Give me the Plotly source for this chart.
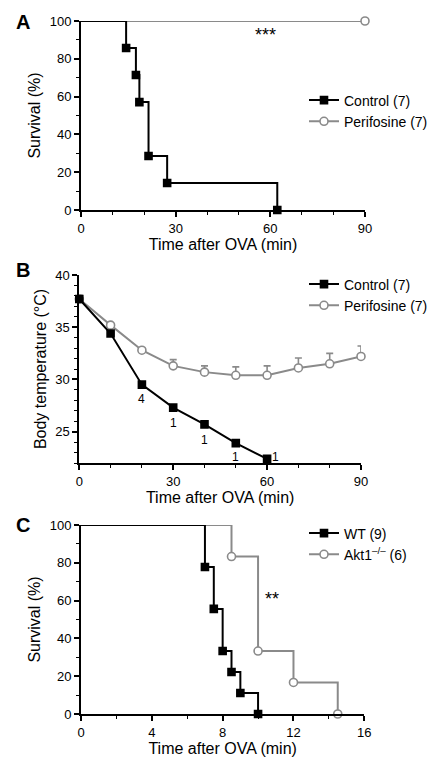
import plotly.graph_objects as go

# ---------------- data ----------------
# Panel A: survival (Kaplan-Meier steps)
a_ctrl_t = [0, 14.3, 17.4, 18.5, 21.4, 27.3, 62.2]
a_ctrl_s = [100, 85.7, 71.4, 57.1, 28.6, 14.3, 0]
a_peri_t = [0, 90]
a_peri_s = [100, 100]

# Panel B: body temperature
b_ctrl_t = [0, 10, 20, 30, 40, 50, 60]
b_ctrl_v = [37.7, 34.4, 29.5, 27.3, 25.7, 23.9, 22.4]
b_peri_t = [0, 10, 20, 30, 40, 50, 60, 70, 80, 90]
b_peri_v = [37.7, 35.2, 32.8, 31.3, 30.7, 30.4, 30.4, 31.1, 31.5, 32.2]
b_peri_err = [0.35, 0.2, 0.2, 0.6, 0.6, 0.8, 0.9, 0.95, 1.0, 1.0]
b_n_labels = ["4", "1", "1", "1", "1"]
b_n_x = [20, 30, 40, 50, 62.6]
b_n_y = [28.1, 25.8, 24.2, 22.6, 22.6]

# Panel C: survival
c_wt_t = [0, 7, 7.5, 8, 8.5, 9, 10]
c_wt_s = [100, 77.8, 55.6, 33.3, 22.2, 11.1, 0]
c_akt_t = [0, 8.5, 10, 12, 14.5]
c_akt_s = [100, 83.3, 33.3, 16.7, 0]

FONT = "Liberation Sans, Arial, sans-serif"
BLACK = "#000000"
GRAY = "#8a8a8a"

W, H = 445, 768
OFFX, OFFY = 8, 8   # page body margin

fig = go.Figure()


def add_series(xs, ys, xa, ya, color, symbol, name, legend, step, skip_first=True, err=None):
    fig.add_trace(go.Scatter(
        x=xs, y=ys, mode="lines", xaxis=xa, yaxis=ya,
        line=dict(color=color, width=2, shape="hv" if step else "linear"),
        showlegend=False, hoverinfo="skip", cliponaxis=False))
    mx = xs[1:] if skip_first else xs
    my = ys[1:] if skip_first else ys
    mk = dict(symbol=symbol, size=8 if symbol == "circle" else 7,
              color=color if symbol == "square" else "white",
              line=dict(color=color, width=1.6))
    tr = dict(x=mx, y=my, mode="markers", xaxis=xa, yaxis=ya, marker=mk,
              showlegend=False, cliponaxis=False)
    if err is not None:
        tr["error_y"] = dict(type="data", symmetric=False, array=err,
                             arrayminus=[0] * len(err), color=color,
                             thickness=1.6, width=3.5)
    fig.add_trace(go.Scatter(**tr))
    fig.add_trace(go.Scatter(
        x=[None], y=[None], mode="lines+markers", xaxis=xa, yaxis=ya,
        name=name, legend=legend, line=dict(color=color, width=2), marker=mk))


add_series(a_peri_t, a_peri_s, "x", "y", GRAY, "circle", "Perifosine (7)", "legend", True)
add_series(a_ctrl_t, a_ctrl_s, "x", "y", BLACK, "square", "Control (7)", "legend", True)
add_series(b_peri_t, b_peri_v, "x2", "y2", GRAY, "circle", "Perifosine (7)", "legend2", False,
           skip_first=False, err=b_peri_err)
add_series(b_ctrl_t, b_ctrl_v, "x2", "y2", BLACK, "square", "Control (7)", "legend2", False,
           skip_first=False)
add_series(c_akt_t, c_akt_s, "x3", "y3", GRAY, "circle", "Akt1<sup>–/–</sup> (6)", "legend3", True)
add_series(c_wt_t, c_wt_s, "x3", "y3", BLACK, "square", "WT (9)", "legend3", True)


def px2x(px):
    return (px - OFFX) / W


def py2y(py):
    return 1 - (py - OFFY) / H


axis_common = dict(showline=True, linecolor=BLACK, linewidth=2, ticks="outside",
                   ticklen=5, tickwidth=1.5, tickcolor=BLACK, showgrid=False,
                   zeroline=False, automargin=False,
                   tickfont=dict(size=13, color=BLACK, family=FONT),
                   title_font=dict(size=16, color=BLACK, family=FONT))
minor_common = dict(ticklen=3, ticks="outside", tickcolor=BLACK, tickwidth=1.2)
xa_title = "Time after OVA (min)"

fig.update_layout(
    width=W, height=H, margin=dict(l=0, r=0, t=0, b=0, autoexpand=False),
    paper_bgcolor="white", plot_bgcolor="white",
    font=dict(family=FONT, color=BLACK),
    xaxis=dict(domain=[px2x(81), px2x(365)], anchor="y", range=[0, 90], tickvals=[0, 30, 60, 90],
               minor=dict(dtick=10, **minor_common),
               title=dict(text=xa_title, standoff=0), **axis_common),
    yaxis=dict(domain=[py2y(210), py2y(21)], anchor="x", range=[0, 100], tickvals=[0, 20, 40, 60, 80, 100],
               minor=dict(dtick=10, **minor_common),
               title=dict(text="Survival (%)", standoff=5), **axis_common),
    xaxis2=dict(domain=[px2x(79.3), px2x(361)], anchor="y2", range=[0, 90], tickvals=[0, 30, 60, 90],
                minor=dict(dtick=10, **minor_common),
                title=dict(text=xa_title, standoff=0), **axis_common),
    yaxis2=dict(domain=[py2y(463), py2y(275)], anchor="x2", range=[22, 40], tickvals=[25, 30, 35, 40],
                minor=dict(dtick=1, **minor_common),
                title=dict(text="Body temperature (°C)", standoff=5), **axis_common),
    xaxis3=dict(domain=[px2x(81), px2x(364.3)], anchor="y3", range=[0, 16], tickvals=[0, 4, 8, 12, 16],
                minor=dict(dtick=2, **minor_common),
                title=dict(text=xa_title, standoff=0), **axis_common),
    yaxis3=dict(domain=[py2y(714), py2y(525)], anchor="x3", range=[0, 100], tickvals=[0, 20, 40, 60, 80, 100],
                minor=dict(dtick=10, **minor_common),
                title=dict(text="Survival (%)", standoff=5), **axis_common),
)

leg_common = dict(bgcolor="rgba(0,0,0,0)", font=dict(size=14, color=BLACK, family=FONT),
                  traceorder="reversed", itemwidth=30, tracegroupgap=0,
                  xanchor="left", yanchor="middle", borderwidth=0)
fig.update_layout(
    legend=dict(x=px2x(304), y=py2y(111), **leg_common),
    legend2=dict(x=px2x(304), y=py2y(295), **leg_common),
    legend3=dict(x=px2x(304), y=py2y(544), **leg_common),
)

annots = []
for letter, py in [("A", 22), ("B", 270), ("C", 525)]:
    annots.append(dict(text=f"<b>{letter}</b>", xref="paper", yref="paper", x=px2x(14), y=py2y(py),
                       xanchor="left", yanchor="middle", showarrow=False,
                       font=dict(size=20, color=BLACK, family=FONT)))
annots.append(dict(text="***", xref="x", yref="y", x=58.6, y=92.6, showarrow=False,
                   font=dict(size=18, color=BLACK, family=FONT)))
annots.append(dict(text="**", xref="x3", yref="y3", x=10.8, y=61, showarrow=False,
                   font=dict(size=18, color=BLACK, family=FONT)))
for t, xv, yv in zip(b_n_labels, b_n_x, b_n_y):
    annots.append(dict(text=t, xref="x2", yref="y2", x=xv, y=yv, showarrow=False,
                       font=dict(size=12, color=BLACK, family=FONT)))
fig.update_layout(annotations=annots)

fig.write_html("out.html")
